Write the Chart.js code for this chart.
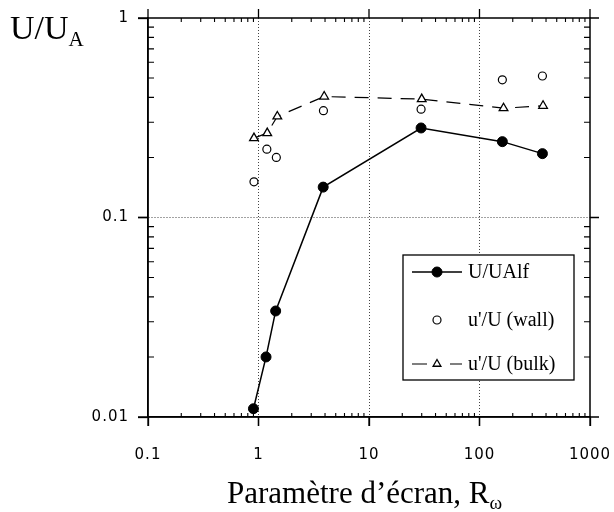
<!DOCTYPE html>
<html><head><meta charset="utf-8">
<script src="https://cdn.jsdelivr.net/npm/chart.js@4"></script>
<style>
html,body{margin:0;padding:0;background:#fff;}
#wrap{position:relative;width:614px;height:512px;overflow:hidden;background:#fff;}
#c{position:absolute;left:0;top:0;}
.t{position:absolute;font-family:"Liberation Serif","Times New Roman",serif;color:#000;line-height:1;white-space:nowrap;}
.t .s{font-size:62%;position:relative;top:0.32em;}
#yt{left:10px;top:11px;font-size:34px;}
#xt{left:227px;top:477px;font-size:31px;}
</style></head><body>
<div id="wrap"><canvas id="c" width="614" height="512"></canvas>
<div class="t" id="yt">U/U<span class="s">A</span></div>
<div class="t" id="xt">Paramètre d’écran, R<span class="s">ω</span></div>
</div>
<script>
const xTickValues=[0.1,1,10,100,1000];
const xTickLabels=['0.1','1','10','100','1000'];
const yTickValues=[0.01,0.1,1];
const yTickLabels=['0.01','0.1','1'];
const seriesNames=['U/UAlf',"u'/U (wall)","u'/U (bulk)"];
const xUAlf=[0.9,1.17,1.43,3.85,29.6,161,371];
const yUAlf=[0.011,0.020,0.034,0.142,0.281,0.240,0.209];
const xWall=[0.91,1.19,1.45,3.87,29.6,161,371];
const yWall=[0.151,0.220,0.200,0.343,0.349,0.490,0.512];
const xBulk=[0.91,1.20,1.48,3.93,30.0,165,376];
const yBulk=[0.250,0.265,0.321,0.404,0.392,0.353,0.363];

const pts=(xs,ys)=>xs.map((x,i)=>({x:x,y:ys[i]}));

const spacing={id:'spacing',beforeDraw(chart){chart.ctx.letterSpacing='1px';}};

const frame={id:'frame',afterDatasetsDraw(chart){
  const ctx=chart.ctx,a=chart.chartArea,xs=chart.scales.x,ys=chart.scales.y;
  ctx.save();ctx.setLineDash([]);ctx.strokeStyle='#000';
  ctx.lineWidth=1.5;
  ctx.strokeRect(a.left,a.top,a.right-a.left,a.bottom-a.top);
  ctx.lineWidth=1.3;ctx.beginPath();
  xTickValues.forEach(v=>{const p=xs.getPixelForValue(v);
    ctx.moveTo(p,a.top-9);ctx.lineTo(p,a.top);
    ctx.moveTo(p,a.bottom);ctx.lineTo(p,a.bottom+9);});
  yTickValues.forEach(v=>{const p=ys.getPixelForValue(v);
    ctx.moveTo(a.left-10,p);ctx.lineTo(a.left,p);
    ctx.moveTo(a.right,p);ctx.lineTo(a.right+9,p);});
  ctx.stroke();
  ctx.lineWidth=1.1;ctx.beginPath();
  for(let d=xs.min;d<xs.max;d*=10){for(let k=2;k<=9;k++){const p=xs.getPixelForValue(k*d);
    ctx.moveTo(p,a.top);ctx.lineTo(p,a.top+4);ctx.moveTo(p,a.bottom-4);ctx.lineTo(p,a.bottom);}}
  for(let d=ys.min;d<ys.max*0.999;d*=10){for(let k=2;k<=9;k++){const p=ys.getPixelForValue(k*d);
    ctx.moveTo(a.left,p);ctx.lineTo(a.left+6,p);ctx.moveTo(a.right-6,p);ctx.lineTo(a.right,p);}}
  ctx.stroke();ctx.restore();
}};

function mark(ctx,style,x,y,r,fill,bw){
  ctx.beginPath();
  if(style==='triangle'){
    ctx.moveTo(x,y-r);ctx.lineTo(x+r*0.866,y+r*0.5);ctx.lineTo(x-r*0.866,y+r*0.5);ctx.closePath();
  }else{ctx.arc(x,y,r,0,Math.PI*2);}
  ctx.fillStyle=fill;ctx.fill();ctx.lineWidth=bw;ctx.strokeStyle='#000';ctx.stroke();
}

const legendBox={id:'legendBox',afterDraw(chart){
  const ctx=chart.ctx;ctx.save();ctx.letterSpacing='0px';ctx.setLineDash([]);
  const bx=403,by=255,bw=171,bh=125;
  ctx.fillStyle='#fff';ctx.fillRect(bx,by,bw,bh);
  ctx.strokeStyle='#000';ctx.lineWidth=1.3;ctx.strokeRect(bx,by,bw,bh);
  const rows=[272,320,364];
  chart.data.datasets.forEach((ds,i)=>{
    const y=rows[i],mx=437;
    ctx.strokeStyle='#000';
    if(ds.showLine!==false){
      ctx.lineWidth=ds.borderWidth;ctx.beginPath();
      if(ds.borderDash&&ds.borderDash.length){ctx.moveTo(412,y);ctx.lineTo(427,y);ctx.moveTo(450,y);ctx.lineTo(462,y);}
      else{ctx.moveTo(412,y);ctx.lineTo(462,y);}
      ctx.stroke();
    }
    mark(ctx,ds.pointStyle,mx,y,ds.pointStyle==='triangle'?4.5:(ds.pointRadius),ds.pointBackgroundColor,ds.pointBorderWidth);
    ctx.fillStyle='#000';ctx.font='20px "Liberation Serif"';ctx.textBaseline='middle';ctx.textAlign='left';
    ctx.fillText(ds.label,468,y+1);
  });
  ctx.restore();
}};

new Chart(document.getElementById('c'),{
  type:'line',
  data:{datasets:[
    {label:seriesNames[0],data:pts(xUAlf,yUAlf),borderColor:'#000',borderWidth:1.5,pointStyle:'circle',pointRadius:5,pointBackgroundColor:'#000',pointBorderColor:'#000',pointBorderWidth:1,tension:0,fill:false},
    {label:seriesNames[1],data:pts(xWall,yWall),showLine:false,borderColor:'#000',borderWidth:1,pointStyle:'circle',pointRadius:4,pointBackgroundColor:'#fff',pointBorderColor:'#000',pointBorderWidth:1.2},
    {label:seriesNames[2],data:pts(xBulk,yBulk),borderColor:'#000',borderWidth:1.2,borderDash:[14,9],pointStyle:'triangle',pointRadius:5,pointBackgroundColor:'#fff',pointBorderColor:'#000',pointBorderWidth:1.3,tension:0,fill:false}
  ]},
  options:{
    responsive:false,animation:false,devicePixelRatio:1,
    layout:{padding:{left:0,right:24,top:18,bottom:0}},
    plugins:{legend:{display:false},tooltip:{enabled:false}},
    scales:{
      x:{type:'logarithmic',min:0.1,max:1000,
        afterBuildTicks:s=>{s.ticks=xTickValues.map(v=>({value:v}));},
        afterFit:s=>{s.height=95;s.paddingLeft=0;s.paddingRight=0;},
        ticks:{callback:(v,i)=>xTickLabels[i],autoSkip:false,maxRotation:0,padding:20,color:'#000',font:{family:'"DejaVu Sans"',size:15}},
        grid:{color:c=>(c.index>0&&c.index<xTickValues.length-1)?'#444':'rgba(0,0,0,0)',lineWidth:1,drawTicks:true,tickLength:9,tickColor:'#000',tickWidth:1.3},
        border:{display:true,color:'#000',width:1.5,dash:[1,2]}},
      y:{type:'logarithmic',min:0.01,max:1,
        afterBuildTicks:s=>{s.ticks=yTickValues.map(v=>({value:v}));},
        afterFit:s=>{s.width=148;s.paddingTop=0;s.paddingBottom=0;},
        ticks:{callback:(v,i)=>yTickLabels[i],autoSkip:false,padding:9,color:'#000',font:{family:'"DejaVu Sans"',size:15}},
        grid:{color:c=>(c.index>0&&c.index<yTickValues.length-1)?'#444':'rgba(0,0,0,0)',lineWidth:1,drawTicks:true,tickLength:10,tickColor:'#000',tickWidth:1.3},
        border:{display:true,color:'#000',width:1.5,dash:[1,2]}}
    }
  },
  plugins:[spacing,frame,legendBox]
});
</script>
</body></html>
